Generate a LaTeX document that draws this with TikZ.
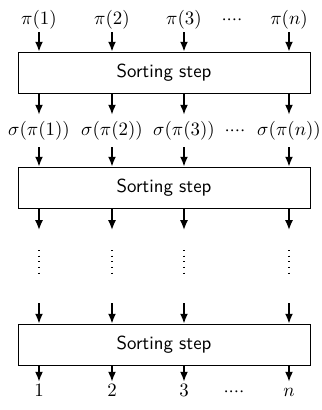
\documentclass[tikz,border=0pt]{standalone}
\usetikzlibrary{arrows.meta}
\begin{document}
\begin{tikzpicture}[x=0.53pt,y=-0.53pt,
  arr/.style={line width=0.8pt,-{Latex[length=5.2pt,width=4.2pt]}},
  sortbox/.style={draw,line width=0.45pt,minimum width=292*0.53pt,
    minimum height=41*0.53pt,inner sep=0pt,font=\sffamily},
  toplab/.style={inner sep=0pt,minimum height=25*0.53pt},
  midlab/.style={inner sep=0pt,minimum height=32*0.53pt},
  botlab/.style={inner sep=0pt,minimum height=20*0.53pt},
  vdots/.style={line width=0.55pt,dash pattern=on 0.55pt off 2.45pt}]
\useasboundingbox (0,0) rectangle (322,410);

% the three sorting stages
\node[sortbox] (s1) at (164,72.5)  {Sorting step};
\node[sortbox] (s2) at (164,187.5) {Sorting step};
\node[sortbox] (s3) at (164,344.5) {Sorting step};

% ellipses between the third and the last column
\newcommand{\fourdots}{$\vphantom{(}{\cdot}{\cdot}{\cdot}{\cdot}$}
\node[toplab] (pd) at (232,19.5) {\fourdots};
\node[midlab] (qd) at (235,131)  {\fourdots};
\node[botlab] (rd) at (234,392)  {\fourdots};

\foreach \i/\x in {1/39,2/112,3/184,n/289}{
  % inputs, intermediate values and outputs
  \node[toplab] (p\i) at (\x,19.5) {$\pi(\i)$};
  \node[midlab] (q\i) at (\x,131)  {$\sigma(\pi(\i))$};
  \node[botlab] (r\i) at (\x,392)  {$\vphantom{(}\i$};
  % free ends around the omitted stages
  \coordinate (c\i) at (\x,230);
  \coordinate (a\i) at (\x,250);
  \coordinate (b\i) at (\x,278);
  \coordinate (e\i) at (\x,303);
  % wires
  \draw[arr] (p\i.south) -- (p\i.south |- s1.north);
  \draw[arr] (q\i.north |- s1.south) -- (q\i.north);
  \draw[arr] (q\i.south) -- (q\i.south |- s2.north);
  \draw[arr] (c\i |- s2.south) -- (c\i);
  \draw[vdots] (a\i) -- (b\i);
  \draw[arr] (e\i) -- (e\i |- s3.north);
  \draw[arr] (r\i.north |- s3.south) -- (r\i.north);
}
\end{tikzpicture}
\end{document}
